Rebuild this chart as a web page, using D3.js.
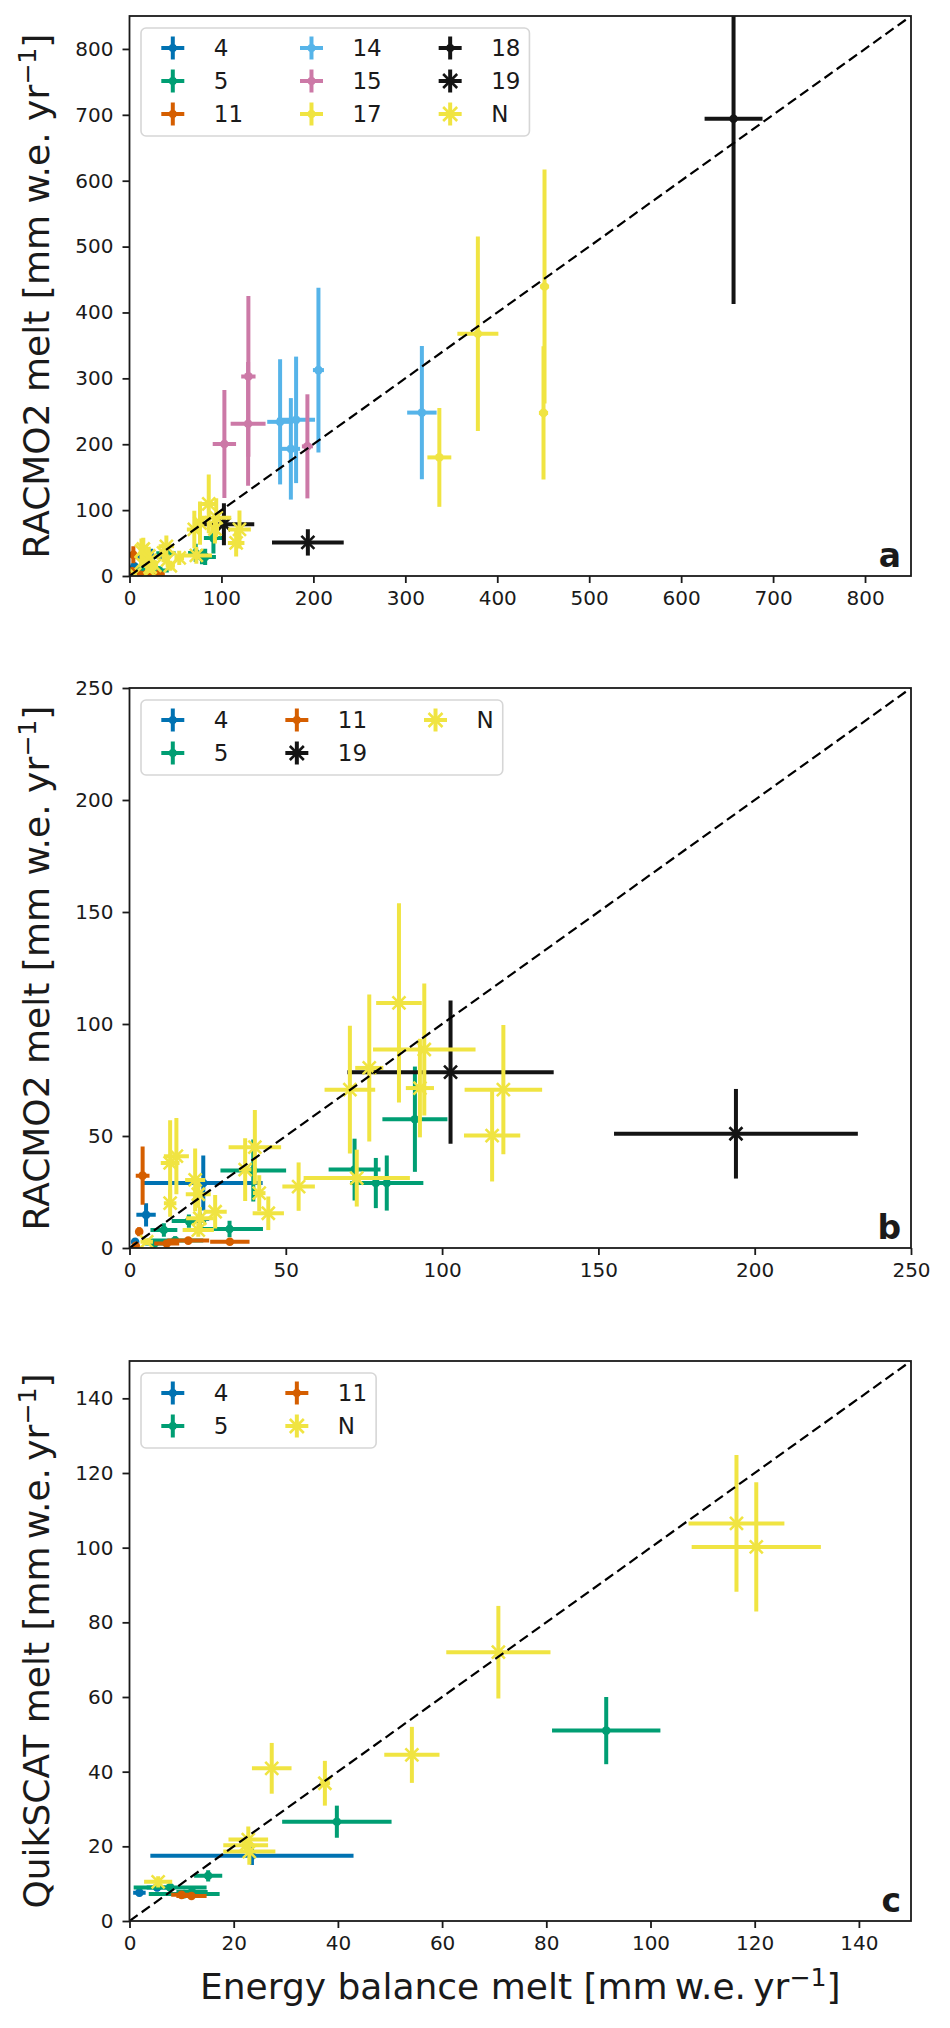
<!DOCTYPE html>
<html lang="en">
<head>
<meta charset="UTF-8">
<title>Melt comparison</title>
<script src="https://d3js.org/d3.v7.min.js"></script>
<style>
  body { margin: 0; background: #fff; }
  svg text { font-family: "DejaVu Sans", sans-serif; fill: #1a1a1a; }
</style>
</head>
<body>
<svg id="chart" width="950" height="2028"></svg>
<script>
// ---- data: each point is [x, y, xerr, yerr] in mm w.e. / yr ----
var seriesNames = ["4", "5", "11", "14", "15", "17", "18", "19", "N"];
var seriesColors = ["#0072B2", "#009E73", "#D55E00", "#56B4E9", "#CC79A7", "#F0E442", "#141414", "#141414", "#F0E442"];
var seriesMarkers = ["dot", "dot", "dot", "dot", "dot", "dot", "dot", "x", "x"];

// RACMO2 vs energy balance (panels a and b)
var s4 = [[1.8, 2.8, 1, 1], [5.3, 14.8, 3.1, 5.2], [23.6, 29, 19, 12.3], [22.5, 13, 3, 3]];
var s5 = [[32, 8.5, 10.7, 3.7], [39.6, 34.6, 10.5, 13.8], [19, 12, 5.5, 3], [11, 8, 4.3, 3],
          [14.6, 3.3, 9, 2], [8, 2, 3, 1.5], [72, 35, 8.3, 13.8], [78.8, 29, 6, 11.2],
          [82.3, 29, 11.7, 12.3], [91.3, 57.5, 10.4, 23.5]];
var s11 = [[4.2, 32.3, 2.2, 13], [3.1, 7.3, 1, 2], [18.8, 3.3, 6.7, 1.5], [32.1, 2.8, 6.3, 1],
           [11.9, 2, 4, 1], [2, 1, 1, 1]];
var s14 = [[318, 248, 16, 101], [205.5, 312.5, 6, 125], [163.8, 234, 14, 95],
           [181.2, 237, 20.6, 96], [175.5, 193, 10, 77]];
var s15 = [[129.3, 303, 7.8, 122], [129, 231, 19, 94], [103.2, 200.4, 12.7, 82], [193.5, 196.8, 6, 79]];
var s17 = [[378.9, 367.8, 22.3, 147.7], [451.4, 439.4, 5, 177.5], [450.3, 247.6, 5, 101], [337, 180, 13, 75]];
var s18 = [[657, 694, 31.5, 281]];
var s19 = [[102.7, 78.5, 33, 32], [194, 51, 39, 20]];
var sN = [[86.2, 109.4, 7.3, 44.5], [76.7, 80.4, 4.5, 32.8], [70.5, 70.7, 8.1, 28.5],
          [94.3, 88.6, 16.4, 29.5], [92.9, 71.4, 4.5, 22], [119.6, 70.7, 12.4, 28.8],
          [116, 50.2, 9, 20.5], [72.7, 31.2, 17, 12.7], [54.1, 27.4, 5.2, 10.8],
          [44.4, 15.5, 5, 7.5], [41.5, 24.5, 2, 8], [40.1, 45, 8.4, 16.6], [37, 35, 2, 14],
          [27.4, 16.2, 3.7, 7.5], [22.5, 13.3, 4.4, 5], [22, 8, 5, 3], [22, 24, 4, 6],
          [21, 30.4, 3.2, 14], [15, 41, 4, 17], [13, 38, 3, 19], [13, 20, 2, 6], [5.5, 2.8, 2, 1.5]];

// QuikSCAT vs energy balance (panel c)
var c4 = [[23.5, 17.5, 19.5, 2.5], [5.3, 9, 2, 1], [1.9, 7.6, 1.2, 1]];
var c5 = [[91.5, 51, 10.4, 9], [39.8, 26.6, 10.5, 4.3], [15.1, 12.1, 2.7, 1.5],
          [7.8, 9, 7, 1], [10.5, 7.2, 6.8, 1], [12, 7.8, 3, 1]];
var c11 = [[11.9, 6.7, 2.9, 0.8], [10, 7, 2, 1]];
var cN = [[116.5, 106.5, 9.2, 18.3], [120.3, 100.2, 12.4, 17.3], [70.8, 72, 10, 12.4],
          [54.2, 44.5, 5.3, 7.5], [37.5, 36.9, 1, 6], [27.3, 40.9, 3.8, 6.8],
          [22.8, 21.8, 3.8, 3.5], [22.3, 20.3, 4.3, 2], [23, 18.6, 5, 3.5], [5.5, 10.5, 2.7, 1.5]];

var ticksA = d3.range(0, 801, 100);
var ticksB = d3.range(0, 251, 50);
var ticksC = d3.range(0, 141, 20);

var panels = [
  { letter: "a", top: 16, max: 850, ticks: ticksA, ylab: "RACMO2 melt", thin: false, ncol: 3,
    series: { "4": s4, "5": s5, "11": s11, "14": s14, "15": s15, "17": s17, "18": s18, "19": s19, "N": sN } },
  { letter: "b", top: 688, max: 250, ticks: ticksB, ylab: "RACMO2 melt", thin: false, ncol: 3,
    series: { "4": s4, "5": s5, "11": s11, "19": s19, "N": sN } },
  { letter: "c", top: 1361, max: 150, ticks: ticksC, ylab: "QuikSCAT melt", thin: true, ncol: 2,
    series: { "4": c4, "5": c5, "11": c11, "N": cN } }
];

var left = 129.5, plotW = 781.5, plotH = 560;
var labelSize = 36;
var svg = d3.select("#chart");

function unitLabel(sel, main, thin, fs) {
  var sp = thin ? "\u2009" : " ";
  sel.append("tspan").text(main + " [mm" + sp + "w.e." + sp + "yr");
  sel.append("tspan").attr("dy", -fs * 0.37).attr("font-size", fs * 0.7).text("\u22121");
  sel.append("tspan").attr("dy", fs * 0.37).attr("font-size", fs).text("]");
}

function drawMarker(g, kind, color, cx, cy, r) {
  if (kind === "dot") {
    g.append("circle").attr("cx", cx).attr("cy", cy).attr("r", r).attr("fill", color);
  } else {
    g.append("path")
      .attr("d", "M" + (cx - r) + "," + (cy - r) + "L" + (cx + r) + "," + (cy + r) +
                 "M" + (cx - r) + "," + (cy + r) + "L" + (cx + r) + "," + (cy - r))
      .attr("stroke", color).attr("stroke-width", 2.6).attr("fill", "none");
  }
}

panels.forEach(function (p, pi) {
  var x = d3.scaleLinear().domain([0, p.max]).range([0, plotW]);
  var y = d3.scaleLinear().domain([0, p.max]).range([plotH, 0]);
  var g = svg.append("g").attr("transform", "translate(" + left + "," + p.top + ")");

  g.append("clipPath").attr("id", "clip" + pi)
    .append("rect").attr("width", plotW).attr("height", plotH);

  var plot = g.append("g").attr("clip-path", "url(#clip" + pi + ")");

  // error bars and markers, one series after the other
  seriesNames.forEach(function (name, si) {
    var pts = p.series[name];
    if (!pts) return;
    var col = seriesColors[si];
    var sg = plot.append("g");
    pts.forEach(function (d) {
      sg.append("line")
        .attr("x1", x(d[0] - d[2])).attr("x2", x(d[0] + d[2]))
        .attr("y1", y(d[1])).attr("y2", y(d[1]))
        .attr("stroke", col).attr("stroke-width", 4);
      sg.append("line")
        .attr("x1", x(d[0])).attr("x2", x(d[0]))
        .attr("y1", y(d[1] - d[3])).attr("y2", y(d[1] + d[3]))
        .attr("stroke", col).attr("stroke-width", 4);
    });
    pts.forEach(function (d) {
      drawMarker(sg, seriesMarkers[si], col, x(d[0]), y(d[1]), seriesMarkers[si] === "dot" ? 4.3 : 6.5);
    });
  });

  // 1:1 line
  plot.append("line")
    .attr("x1", x(0)).attr("y1", y(0)).attr("x2", x(p.max)).attr("y2", y(p.max))
    .attr("stroke", "#000").attr("stroke-width", 2.2).attr("stroke-dasharray", "10,5");

  // axes
  var xAxis = g.append("g").attr("transform", "translate(0," + plotH + ")")
    .call(d3.axisBottom(x).tickValues(p.ticks).tickSize(7).tickPadding(8));
  var yAxis = g.append("g")
    .call(d3.axisLeft(y).tickValues(p.ticks).tickSize(7).tickPadding(9));
  [xAxis, yAxis].forEach(function (a) {
    a.select(".domain").remove();
    a.selectAll(".tick line").attr("stroke", "#1a1a1a").attr("stroke-width", 1.8);
    a.selectAll(".tick text").attr("font-size", 20).attr("font-family", "DejaVu Sans").attr("fill", "#1a1a1a");
  });

  g.append("rect").attr("width", plotW).attr("height", plotH)
    .attr("fill", "none").attr("stroke", "#1a1a1a").attr("stroke-width", 1.8);

  // y label
  var yl = g.append("text")
    .attr("transform", "translate(" + (49 - left) + "," + (plotH / 2) + ") rotate(-90)")
    .attr("text-anchor", "middle").attr("font-size", labelSize);
  unitLabel(yl, p.ylab, p.thin, labelSize);

  // panel letter
  g.append("text").attr("x", plotW - 10).attr("y", plotH - 9)
    .attr("text-anchor", "end").attr("font-size", 33).attr("font-weight", "bold")
    .text(p.letter);

  // legend (column-major, like matplotlib)
  var items = seriesNames.map(function (n, i) { return i; })
    .filter(function (i) { return p.series[seriesNames[i]]; });
  var fs = 23, rowH = 33, hbox = 45.6, tpad = 18.2, cspace = 45.6, bpad = 9;
  var nrow = Math.ceil(items.length / p.ncol);
  var lg = g.append("g").attr("transform", "translate(11.5,12)");
  var frame = lg.append("rect").attr("rx", 5).attr("ry", 5)
    .attr("fill", "#fff").attr("fill-opacity", 0.8)
    .attr("stroke", "#d6d6d6").attr("stroke-width", 1.6);
  var cx0 = bpad, boxW = 0;
  for (var c = 0; c < p.ncol; c++) {
    var colItems = items.slice(c * nrow, (c + 1) * nrow);
    if (!colItems.length) break;
    var maxW = 0;
    colItems.forEach(function (si, r) {
      var cy = 20 + r * rowH;
      var hc = cx0 + hbox / 2;
      var col = seriesColors[si];
      lg.append("line").attr("x1", hc - 11.5).attr("x2", hc + 11.5).attr("y1", cy).attr("y2", cy)
        .attr("stroke", col).attr("stroke-width", 4);
      lg.append("line").attr("x1", hc).attr("x2", hc).attr("y1", cy - 11.5).attr("y2", cy + 11.5)
        .attr("stroke", col).attr("stroke-width", 4);
      drawMarker(lg, seriesMarkers[si], col, hc, cy, seriesMarkers[si] === "dot" ? 4 : 7);
      var t = lg.append("text").attr("x", cx0 + hbox + tpad).attr("y", cy).attr("dy", "0.36em")
        .attr("font-size", fs).text(seriesNames[si]);
      maxW = Math.max(maxW, t.node().getComputedTextLength());
    });
    boxW = cx0 + hbox + tpad + maxW + bpad;
    cx0 = boxW - bpad + cspace;
  }
  frame.attr("width", boxW).attr("height", 20 + (nrow - 1) * rowH + 22);
});

// shared x label under the last panel
var xl = svg.append("text").attr("x", left + plotW / 2).attr("y", 1999)
  .attr("text-anchor", "middle").attr("font-size", labelSize);
unitLabel(xl, "Energy balance melt", true, labelSize);
</script>
</body>
</html>
